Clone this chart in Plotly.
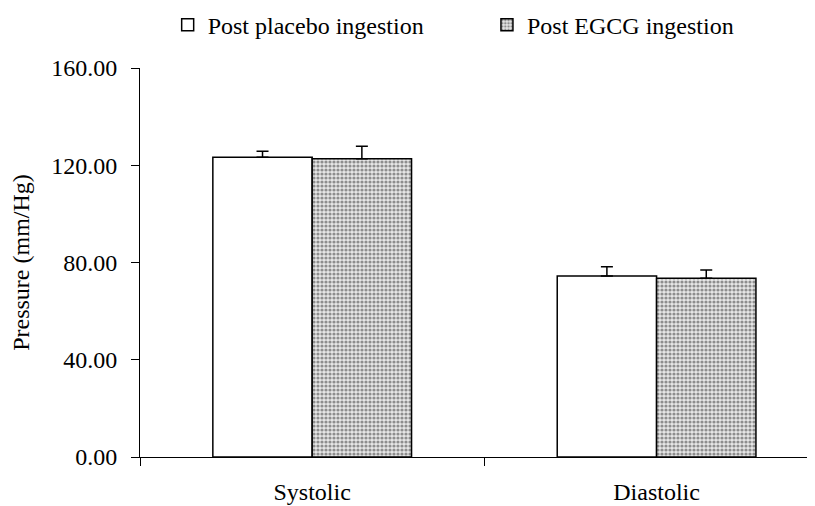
import plotly.graph_objects as go

categories = ["Systolic", "Diastolic"]
placebo = [123.3, 74.4]
placebo_err = [2.5, 3.9]
egcg = [122.7, 73.5]
egcg_err = [5.1, 3.4]
y_ticks = [0, 40, 80, 120, 160]
y_tick_labels = ["0.00", "40.00", "80.00", "120.00", "160.00"]

FONT = "Liberation Serif"
FS = 24

fig = go.Figure()
fig.add_trace(go.Bar(
    x=categories, y=placebo, name="Post placebo ingestion", legend="legend",
    marker=dict(color="white", line=dict(color="black", width=1.5)),
    error_y=dict(type="data", array=placebo_err, arrayminus=[0, 0], symmetric=False,
                 color="black", thickness=1.5, width=6),
))
fig.add_trace(go.Bar(
    x=categories, y=egcg, name="Post EGCG ingestion", legend="legend2",
    marker=dict(color="white", line=dict(color="black", width=1.5),
                pattern=dict(shape=".", fgcolor="#333333", bgcolor="#e6e6e6",
                             size=4, solidity=0.5)),
    error_y=dict(type="data", array=egcg_err, arrayminus=[0, 0], symmetric=False,
                 color="black", thickness=1.5, width=6),
))

legend_common = dict(orientation="h", xanchor="left", y=1.11, yanchor="middle",
                     font=dict(family=FONT, size=FS, color="black"),
                     bgcolor="rgba(0,0,0,0)")

fig.update_layout(
    width=807, height=498,
    margin=dict(l=132, r=0, t=60, b=49, autoexpand=False),
    paper_bgcolor="white", plot_bgcolor="white",
    barmode="group", bargap=0.423, bargroupgap=0,
    font=dict(family=FONT, size=FS, color="black"),
    legend=dict(x=0.041, **legend_common),
    legend2=dict(x=0.514, **legend_common),
    showlegend=True,
)
fig.update_xaxes(
    type="category", range=[-0.5, 1.46], automargin=False,
    showline=True, linecolor="black", linewidth=1,
    ticks="outside", tickson="boundaries", ticklen=8, tickcolor="black",
    showgrid=False, zeroline=False,
    tickfont=dict(family=FONT, size=FS, color="black"),
    ticklabelstandoff=13,
)
fig.update_yaxes(
    range=[0, 160], tickvals=y_ticks, ticktext=y_tick_labels, automargin=False,
    showline=True, linecolor="black", linewidth=1,
    ticks="outside", ticklen=8, tickcolor="black",
    showgrid=False, zeroline=False,
    tickfont=dict(family=FONT, size=FS, color="black"),
    ticklabelstandoff=9,
    title=dict(text="Pressure (mm/Hg)", font=dict(family=FONT, size=FS, color="black"),
               standoff=30),
)

fig.write_html("out.html")
